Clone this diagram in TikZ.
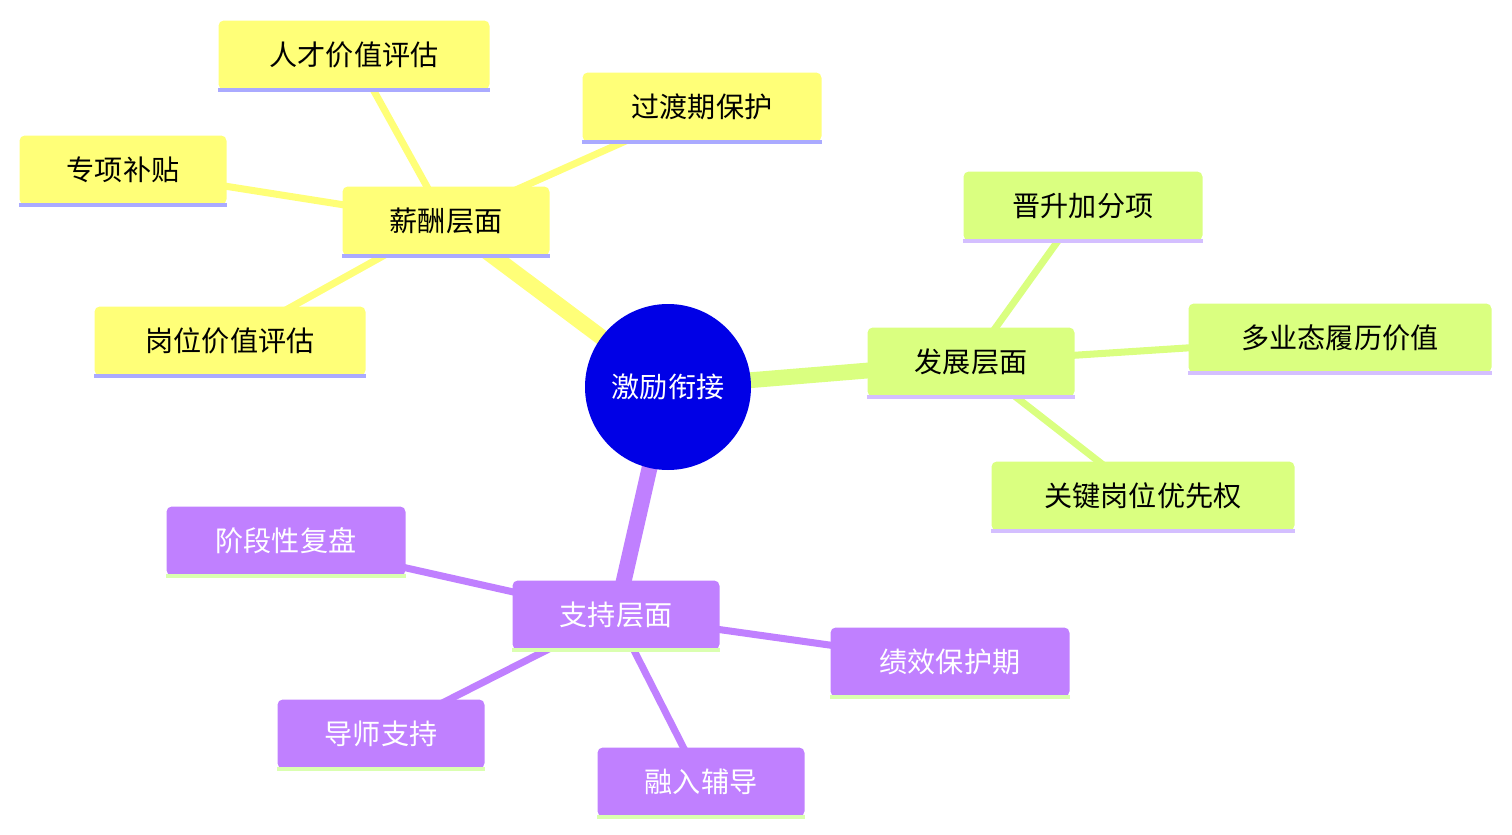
\documentclass[tikz,border=0pt]{standalone}
\usepackage{fontspec}
\setmainfont{Noto Sans CJK SC}
\usetikzlibrary{positioning, backgrounds}
\definecolor{salfill}{HTML}{FFFF78}
\definecolor{salline}{HTML}{AAAAFF}
\definecolor{devfill}{HTML}{DAFF80}
\definecolor{devline}{HTML}{D4BFFF}
\definecolor{supfill}{HTML}{C080FF}
\definecolor{supline}{HTML}{DAFFB0}
\definecolor{rootfill}{HTML}{0000E6}
\tikzset{
  box/.style={rounded corners=3pt, minimum height=69*0.02cm, inner sep=0pt, font=\fontsize{16}{18}\selectfont},
  sal/.style={box, fill=salfill, text=black},
  dev/.style={box, fill=devfill, text=black},
  sup/.style={box, fill=supfill, text=white},
  link/.style={line width=#1, line cap=round}
}
\begin{document}
\begin{tikzpicture}[x=0.02cm, y=-0.02cm]
      \useasboundingbox (0,0) rectangle (1512,835);
      \node[circle, fill=rootfill, minimum size=166*0.02cm, text=white, font=\fontsize{16}{18}\selectfont] (root) at (668,387) {激励衔接};
      % salary branch
      \node[sal, minimum width=207*0.02cm] (sal) at (446,221) {薪酬层面};
      \node[sal, minimum width=271*0.02cm] (talent) at (354,55) {人才价值评估};
      \node[sal, minimum width=239*0.02cm] (trans) at (702,107) {过渡期保护};
      \node[sal, minimum width=207*0.02cm] (allow) at (123,170) {专项补贴};
      \node[sal, minimum width=271*0.02cm] (post) at (230,341) {岗位价值评估};
      % development branch
      \node[dev, minimum width=207*0.02cm] (dev) at (971,362) {发展层面};
      \node[dev, minimum width=239*0.02cm] (promo) at (1083,206) {晋升加分项};
      \node[dev, minimum width=303*0.02cm] (resume) at (1340,338) {多业态履历价值};
      \node[dev, minimum width=303*0.02cm] (key) at (1143,496) {关键岗位优先权};
      % support branch
      \node[sup, minimum width=207*0.02cm] (sup) at (616,615) {支持层面};
      \node[sup, minimum width=239*0.02cm] (review) at (286,541) {阶段性复盘};
      \node[sup, minimum width=239*0.02cm] (perf) at (950,662) {绩效保护期};
      \node[sup, minimum width=207*0.02cm] (mentor) at (381,734) {导师支持};
      \node[sup, minimum width=207*0.02cm] (onboard) at (701,782) {融入辅导};
      \foreach \n in {sal, talent, trans, allow, post}
        \draw[salline, line width=2.5pt] (\n.south west) -- (\n.south east);
      \foreach \n in {dev, promo, resume, key}
        \draw[devline, line width=2.5pt] (\n.south west) -- (\n.south east);
      \foreach \n in {sup, review, perf, mentor, onboard}
        \draw[supline, line width=2.5pt] (\n.south west) -- (\n.south east);
      \begin{pgfonlayer}{background}
        \draw[salfill, link=9pt] (root.center) -- (sal.center);
        \draw[devfill, link=9pt] (root.center) -- (dev.center);
        \draw[supfill, link=9pt] (root.center) -- (sup.center);
        \foreach \n in {talent, trans, allow, post}
          \draw[salfill, link=4pt] (sal.center) -- (\n.center);
        \foreach \n in {promo, resume, key}
          \draw[devfill, link=4pt] (dev.center) -- (\n.center);
        \foreach \n in {review, perf, mentor, onboard}
          \draw[supfill, link=4pt] (sup.center) -- (\n.center);
      \end{pgfonlayer}
\end{tikzpicture}
\end{document}
